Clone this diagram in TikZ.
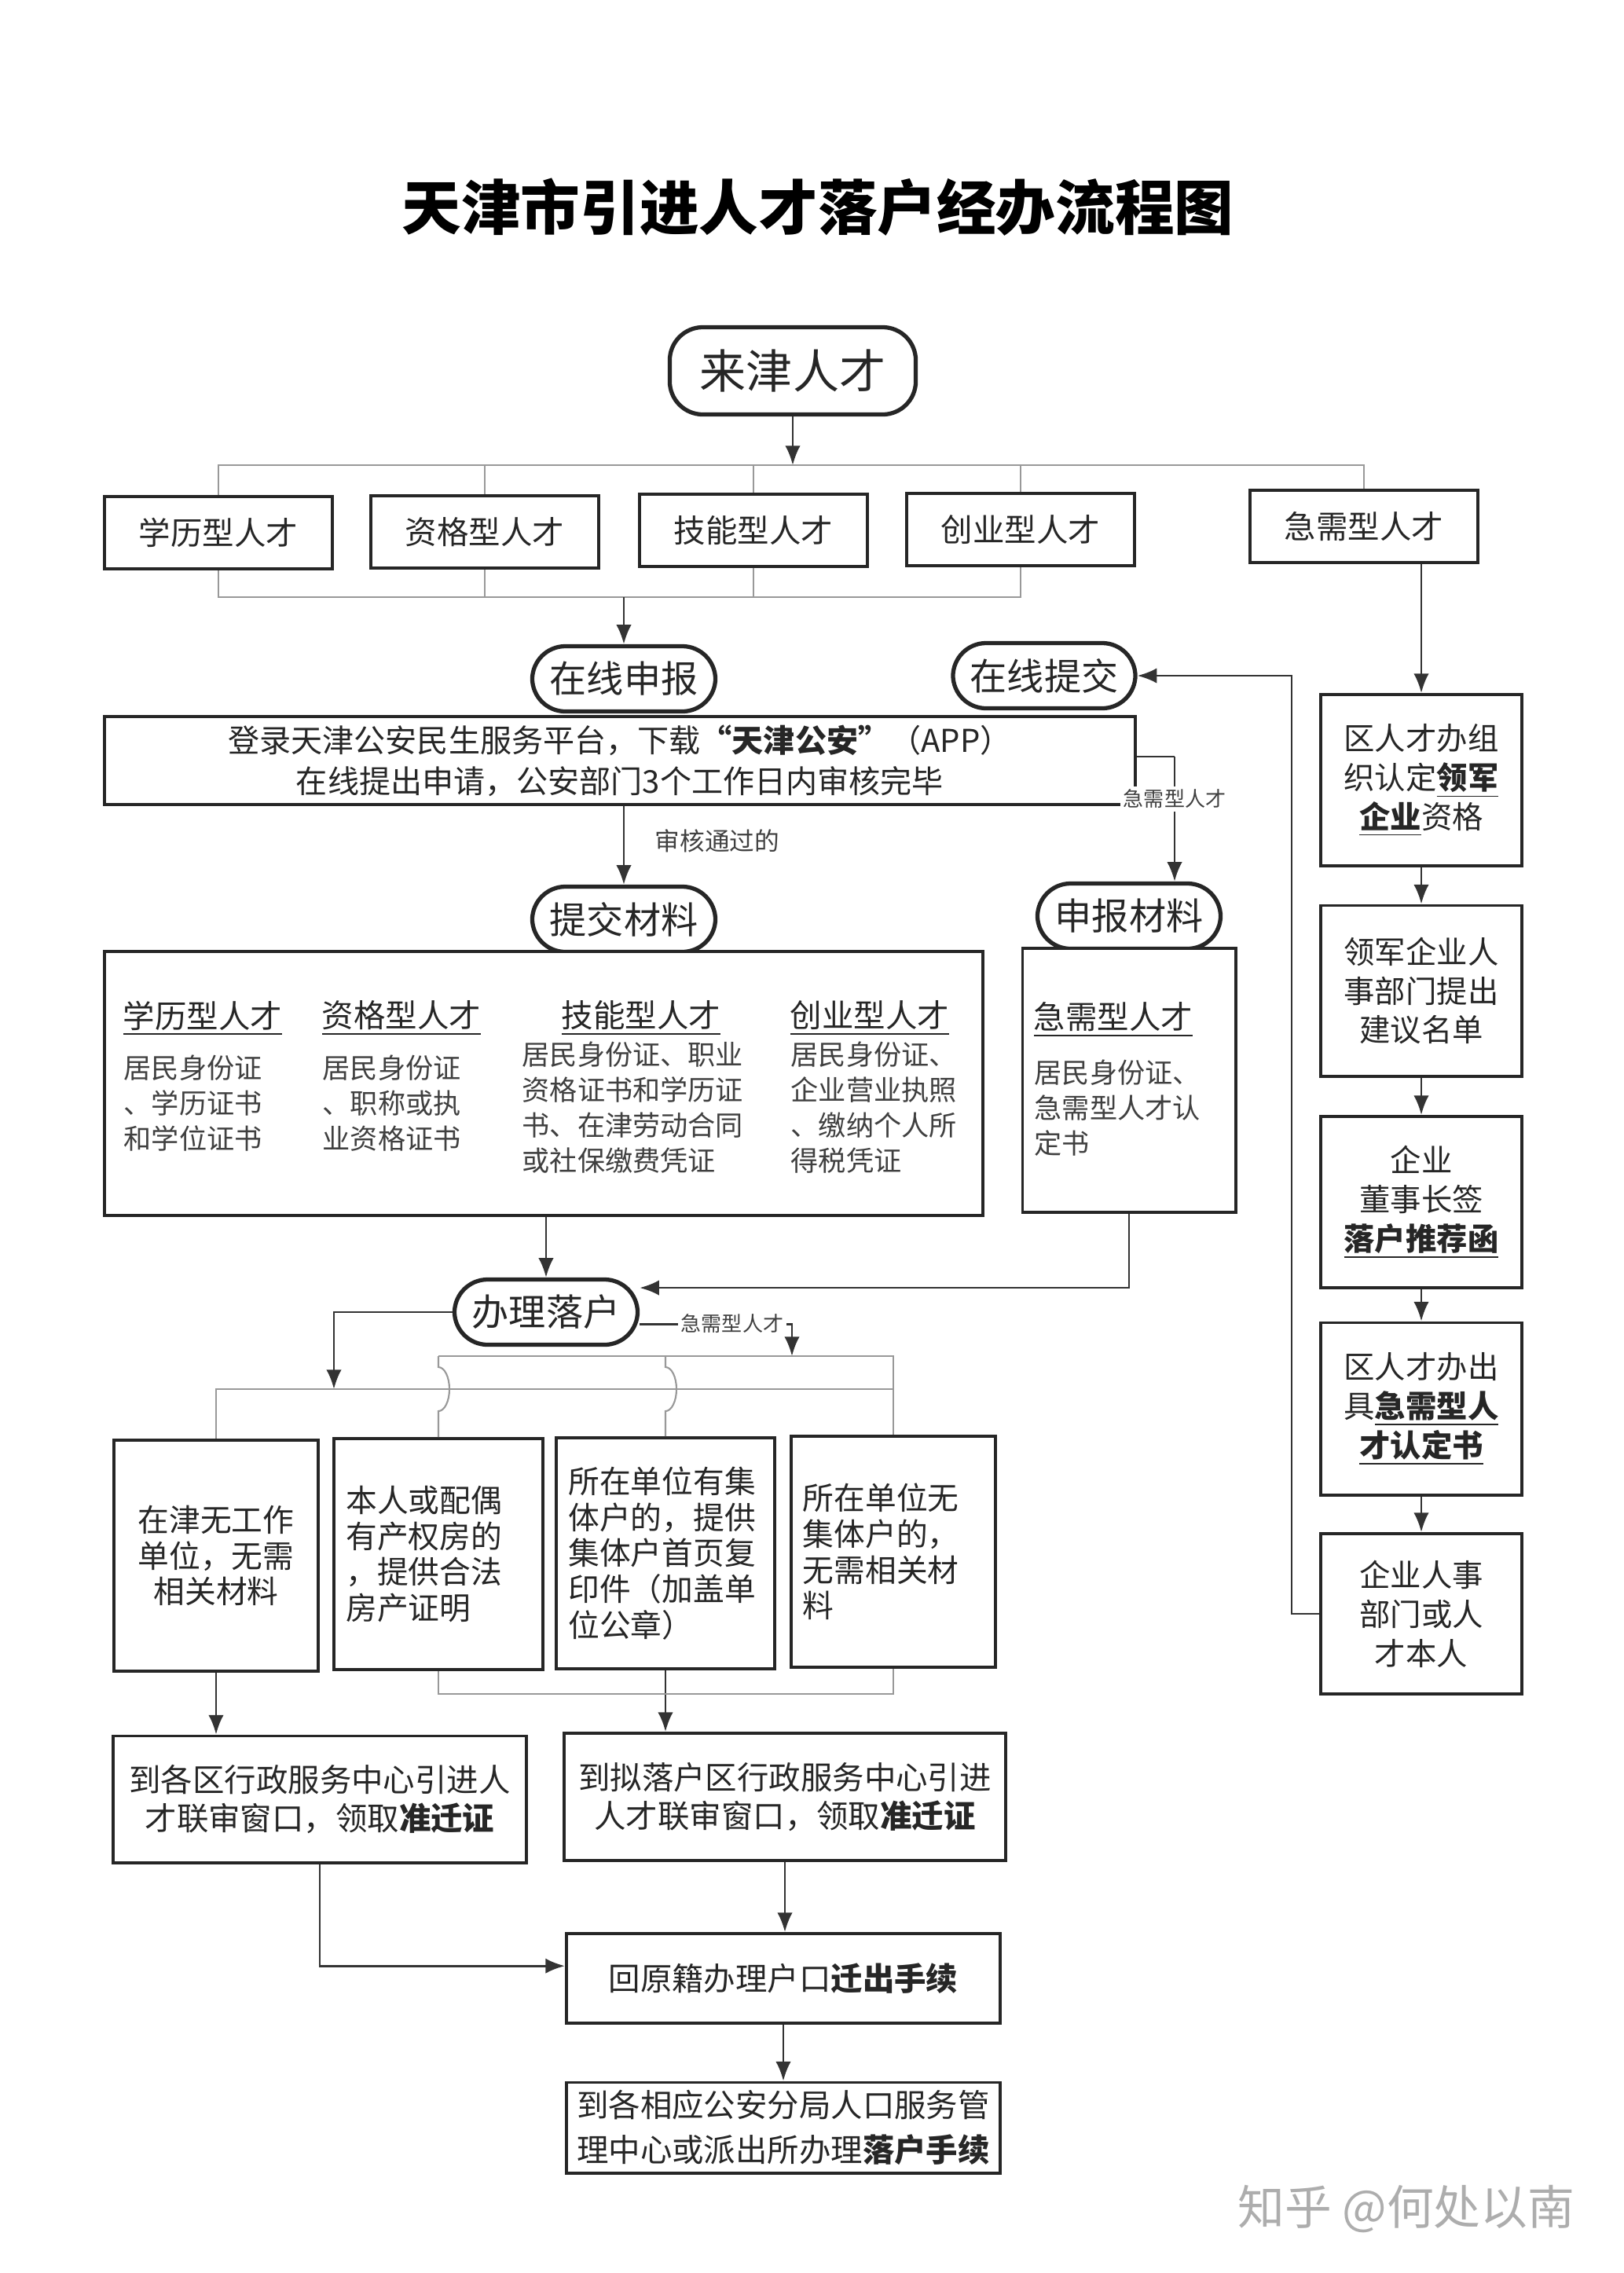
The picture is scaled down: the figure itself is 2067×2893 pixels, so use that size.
\documentclass[tikz,border=0pt]{standalone}
\usepackage{fontspec}
\setmainfont{Noto Sans CJK SC}
\usetikzlibrary{arrows.meta, positioning, calc}
\newcommand{\fsz}[2]{\fontsize{#1}{#2}\selectfont}
\newcommand{\ulb}[1]{\underline{\textbf{#1}}}

\begin{document}
\begin{tikzpicture}[x=0.01cm, y=-0.01cm,
  box/.style={draw=black!85, line width=1.1pt, fill=white, text=black!85, inner sep=0pt, align=center},
  rbox/.style={box, rounded corners=12pt, line width=1.5pt, minimum width=2.33cm, minimum height=0.83cm, font=\fsz{13.4}{16}},
  link/.style={draw=black!80, line width=0.8pt},
  arr/.style={link, -{Latex[length=7pt, width=5.5pt]}},
  bar/.style={draw=black!40, line width=0.6pt},
  cat/.style={box, minimum width=2.9cm, minimum height=0.92cm, font=\fsz{11.5}{14}},
  head/.style={text=black!85, font=\fsz{11.5}{14}},
  col/.style={anchor=north west, align=left, inner sep=0pt, text=black!75, font=\fsz{10}{12.8}},
  way/.style={box, minimum height=2.94cm, text width=#1, align=left, font=\fsz{11.3}{13}},
  side/.style={box, minimum width=2.56cm, font=\fsz{11.2}{14.2}},
  tag/.style={fill=white, inner sep=1pt, text=black!75}]
\useasboundingbox (0,0) rectangle (2067,2893);
\fill[white] (0,0) rectangle (2067,2893);

% Title
\node[font=\fsz{21.5}{26}\bfseries] (title) at (1041,264) {天津市引进人才落户经办流程图};

% Talent categories
\node[rbox, minimum width=3.13cm, minimum height=1.11cm, font=\fsz{16.8}{20}] (laijin) at (1009,472) {来津人才};
\node[cat] (xueli) at (278,678) {学历型人才};
\node[cat] (zige) at (617,677) {资格型人才};
\node[cat] (jineng) at (959,675) {技能型人才};
\node[cat] (chuangye) at (1299,674) {创业型人才};
\node[cat] (jixu) at (1736,670) {急需型人才};

\coordinate (split) at (1009,592);
\coordinate (merge) at (794,760);
\draw[arr] (laijin) -- (split);
\draw[bar] (xueli.north) -- (xueli.north |- split) -- (jixu.north |- split) -- (jixu.north);
\draw[bar] (xueli.south) -- (xueli.south |- merge) -- (chuangye.south |- merge) -- (chuangye.south);
\foreach \n in {zige,jineng,chuangye} {
  \draw[bar] (\n.north) -- (\n.north |- split);
}
\foreach \n in {zige,jineng} {
  \draw[bar] (\n.south) -- (\n.south |- merge);
}

% Online application
\node[box, minimum width=13.12cm, minimum height=1.12cm, font=\fsz{11.4}{14.8}] (denglu) at (789,968)
  {登录天津公安民生服务平台，下载\textbf{“天津公安”}（APP）\\在线提出申请，公安部门3个工作日内审核完毕};
\node[rbox] (shenbao) at (794,864) {在线申报};
\node[rbox, minimum width=2.32cm] (tijiao) at (1329,860) {在线提交};
\draw[arr] (merge) -- (shenbao.north);

% Materials
\node[rbox] (tjcl) at (794,1170) {提交材料};
\node[rbox] (sbcl) at (1437,1166) {申报材料};
\draw[arr] (denglu.south -| tjcl) -- (tjcl.north);
\node[tag, font=\fsz{9}{11}] (tongguo) at (913,1070) {审核通过的};

\coordinate (jxturn) at (1495,963);
\draw[link] (denglu.east |- jxturn) -- (jxturn);
\draw[arr] (jxturn) -- (jxturn |- sbcl.north);
\node[tag, font=\fsz{7.4}{9}] (jxtag1) at (1495,1017) {急需型人才};

\node[box, minimum width=11.18cm, minimum height=3.36cm] (cailiao) at (692,1379) {};
\node[box, minimum width=2.71cm, minimum height=3.36cm] (jxcl) at (1437,1375) {};

\node[head] (hxueli) at (258,1296) {\underline{学历型人才}};
\node[head] (hzige) at (511,1296) {\underline{资格型人才}};
\node[head] (hjineng) at (816,1296) {\underline{技能型人才}};
\node[head] (hchuangye) at (1107,1296) {\underline{创业型人才}};
\node[head] (hjixu) at (1417,1298) {\underline{急需型人才}};

\node[col] (txueli) at (157,1342) {居民身份证\\、学历证书\\和学位证书};
\node[col] (tzige) at (410,1342) {居民身份证\\、职称或执\\业资格证书};
\node[col] (tjineng) at (664,1325) {居民身份证、职业\\资格证书和学历证\\书、在津劳动合同\\或社保缴费凭证};
\node[col] (tchuangye) at (1006,1325) {居民身份证、\\企业营业执照\\、缴纳个人所\\得税凭证};
\node[col] (tjixu) at (1316,1348) {居民身份证、\\急需型人才认\\定书};

% Settling
\node[rbox] (banli) at (695,1670) {办理落户};
\draw[arr] (cailiao.south -| banli) -- (banli.north);
\draw[arr] (jxcl.south) |- ([yshift=8.8pt]banli.east);

\coordinate (lbr) at (425,1768);
\coordinate (rbr) at (1008,1726);
\draw[arr] (banli.west) -| (lbr);
\draw[arr] ([yshift=-4.3pt]banli.east) -| (rbr);
\node[tag, font=\fsz{7.4}{9}] (jxtag2) at (932,1685) {急需型人才};

\node[way=2.3cm, minimum width=2.6cm, align=center] (wugz) at (275,1980) {在津无工作\\单位，无需\\相关材料};
\node[way=2.35cm, minimum width=2.65cm] (chanquan) at (558,1978) {本人或配偶\\有产权房的\\，提供合法\\房产证明};
\node[way=2.47cm, minimum width=2.77cm] (youjt) at (847,1977) {所在单位有集\\体户的，提供\\集体户首页复\\印件（加盖单\\位公章）};
\node[way=2.3cm, minimum width=2.6cm] (wujt) at (1137,1975) {所在单位无\\集体户的，\\无需相关材\\料};

\draw[bar] (wugz.north) -- (wugz.north |- lbr) -- (wujt.north |- lbr);
\draw[bar] (chanquan.north |- rbr) -- (wujt.north |- rbr) -- (wujt.north);
\foreach \n in {chanquan,youjt} {
  \draw[bar] (\n.north |- rbr) -- ++(0,14) arc[start angle=-90, end angle=90, x radius=14, y radius=28] -- (\n.north);
}

% Moving the household
\node[box, minimum width=5.25cm, minimum height=1.61cm, font=\fsz{11.5}{14}] (daogequ) at (407,2290)
  {到各区行政服务中心引进人\\才联审窗口，领取\textbf{准迁证}};
\node[box, minimum width=5.61cm, minimum height=1.62cm, font=\fsz{11.5}{14}] (daoni) at (999,2287)
  {到拟落户区行政服务中心引进\\人才联审窗口，领取\textbf{准迁证}};
\node[box, minimum width=5.52cm, minimum height=1.14cm, font=\fsz{11.5}{14}] (huiyuanji) at (997,2518)
  {回原籍办理户口\textbf{迁出手续}};
\node[box, minimum width=5.52cm, minimum height=1.15cm, font=\fsz{11.5}{16}] (daogexiang) at (997,2708)
  {到各相应公安分局人口服务管\\理中心或派出所办理\textbf{落户手续}};

\coordinate (botbar) at (847,2156);
\draw[arr] (wugz.south) -- (wugz.south |- daogequ.north);
\draw[arr] (youjt.south) -- (youjt.south |- daoni.north);
\draw[bar] (chanquan.south) |- (botbar) -| (wujt.south);
\draw[arr] (daogequ.south) |- ([yshift=4.5pt]huiyuanji.west);
\draw[arr] (daoni.south) -- (daoni.south |- huiyuanji.north);
\draw[arr] (huiyuanji.south) -- (daogexiang.north);

% Urgent talent column
\node[side, minimum height=2.18cm] (r1) at (1809,993) {区人才办组\\织认定\ulb{领军}\\\ulb{企业}资格};
\node[side, minimum height=2.17cm] (r2) at (1809,1261) {领军企业人\\事部门提出\\建议名单};
\node[side, minimum height=2.18cm] (r3) at (1809,1530) {企业\\董事长签\\\ulb{落户推荐函}};
\node[side, minimum height=2.19cm] (r4) at (1809,1793) {区人才办出\\具\ulb{急需型人}\\\ulb{才认定书}};
\node[side, minimum height=2.04cm] (r5) at (1809,2054) {企业人事\\部门或人\\才本人};

\draw[arr] (jixu.south -| r1.north) -- (r1.north);
\foreach \a/\b in {r1/r2, r2/r3, r3/r4, r4/r5} {
  \draw[arr] (\a) -- (\b);
}
\coordinate (back) at (1644,2054);
\draw[arr] (r5.west) -- (back) |- (tijiao.east);

% Watermark
\node[text=black!32, font=\fsz{17}{20}] (zhihu) at (1790,2811) {知乎 @何处以南};
\end{tikzpicture}
\end{document}
